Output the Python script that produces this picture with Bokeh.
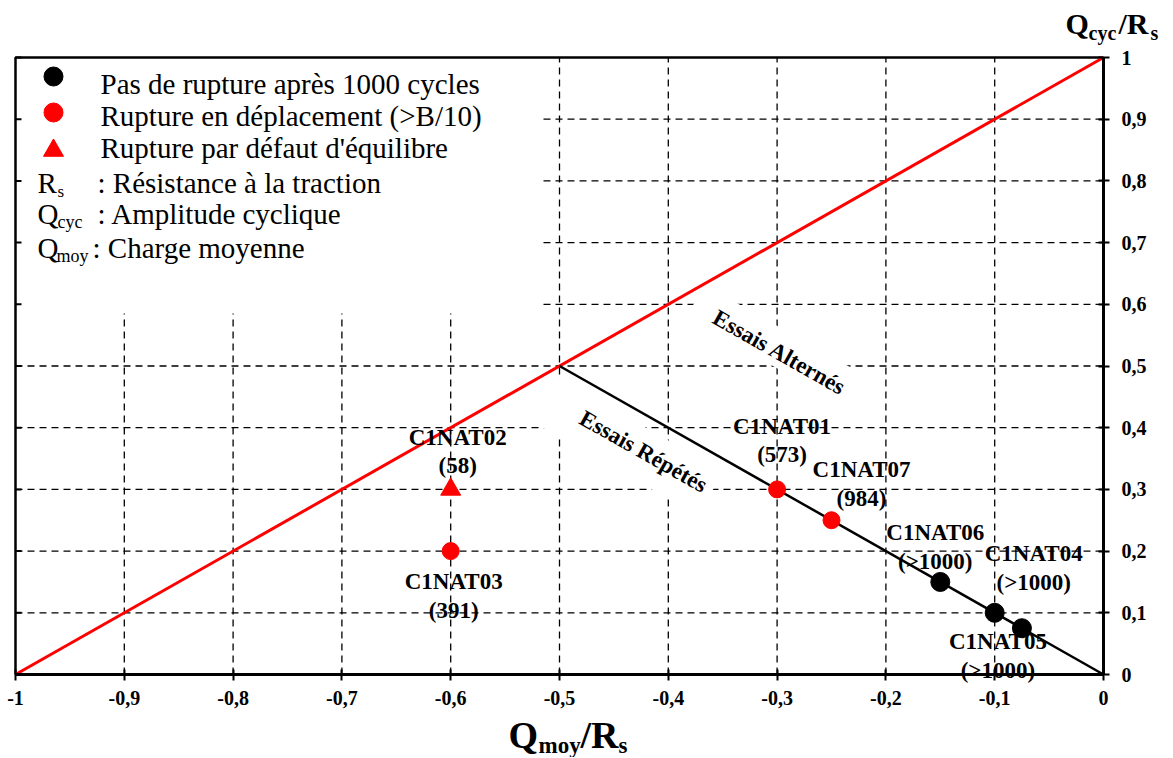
import math
from bokeh.plotting import figure
from bokeh.models import (ColumnDataSource, FixedTicker, Label,
                          CustomJSTickFormatter, Range1d)
from bokeh.core.properties import value
from bokeh.embed import file_html
from bokeh.resources import INLINE

# ---------------- data ----------------
x_ticks = [-1.0, -0.9, -0.8, -0.7, -0.6, -0.5, -0.4, -0.3, -0.2, -0.1, 0.0]
y_ticks = [0.0, 0.1, 0.2, 0.3, 0.4, 0.5, 0.6, 0.7, 0.8, 0.9, 1.0]

limit_x = [-1.0, 0.0]      # Qcyc/Rs = 1 + Qmoy/Rs (red)
limit_y = [0.0, 1.0]
repeat_x = [-0.5, 0.0]     # Qcyc/Rs = -Qmoy/Rs (black)
repeat_y = [0.5, 0.0]

test_names = ["C1NAT01", "C1NAT07", "C1NAT06", "C1NAT04", "C1NAT05", "C1NAT02", "C1NAT03"]
test_cycles = ["(573)", "(984)", "(>1000)", "(>1000)", "(>1000)", "(58)", "(391)"]
test_qmoy = [-0.3, -0.25, -0.15, -0.1, -0.075, -0.6, -0.6]
test_qcyc = [0.3, 0.25, 0.15, 0.1, 0.075, 0.3, 0.2]
test_kind = ["depl", "depl", "none", "none", "none", "equil", "depl"]

legend_texts = ["Pas de rupture après 1000 cycles",
                "Rupture en déplacement (>B/10)",
                "Rupture par défaut d'équilibre"]

# ---------------- layout (page pixels -> data) ----------------
W, H = 1172, 757
PX_L, PX_R, PY_T, PY_B = 15.0, 1103.0, 57.0, 674.0
SX = PX_R - PX_L          # px per unit along x
SY = PY_B - PY_T          # px per unit along y
def dxp(px):
    return -1.0 + (px - PX_L) / SX
def dyp(py):
    return (PY_B - py) / SY

FONT = "Liberation Serif"
RED = "#FF0000"
ang = -math.atan((0.5 * SY) / (0.5 * SX))

p = figure(width=W, height=H,
           x_range=Range1d(dxp(0), dxp(W)), y_range=Range1d(dyp(H), dyp(0)),
           x_axis_location="below", y_axis_location="right",
           output_backend="svg", toolbar_location=None, min_border=0)
p.background_fill_color = "white"
p.border_fill_color = "white"
p.outline_line_color = None
p.grid.visible = False

fmt = CustomJSTickFormatter(code="""
const v = Math.round(tick*10)/10;
return (v === 0 ? "0" : v.toString()).replace('.', ',');
""")

for ax, ticks, bnds in ((p.xaxis[0], x_ticks, (-1, 0)), (p.yaxis[0], y_ticks, (0, 1))):
    ax.ticker = FixedTicker(ticks=ticks)
    ax.formatter = fmt
    ax.fixed_location = 0
    ax.bounds = bnds
    ax.major_label_text_font = FONT
    ax.major_label_text_font_style = "bold"
    ax.major_label_text_font_size = "20px"
    ax.major_label_text_color = "black"
    ax.axis_line_width = 3
    ax.axis_line_color = "black"
    ax.major_tick_line_width = 2
    ax.major_tick_line_color = "black"
    ax.major_tick_in = 5
    ax.major_tick_out = 6
    ax.minor_tick_line_color = None
p.xaxis[0].major_label_standoff = 10
p.yaxis[0].major_label_standoff = 12

# ---------------- dashed grid ----------------
gx = x_ticks[1:-1]
gy = y_ticks[1:-1]
p.segment(x0=gx, x1=gx, y0=[0] * len(gx), y1=[1] * len(gx),
          line_color="black", line_dash="7 5", line_width=1.3)
p.segment(x0=[-1] * len(gy), x1=[0] * len(gy), y0=gy, y1=gy,
          line_color="black", line_dash="7 5", line_width=1.3)

# ---------------- white masks (legend box, rotated text boxes) ----------------
p.quad(left=[dxp(PX_L)], right=[dxp(541)], bottom=[dyp(313)], top=[dyp(PY_T)],
       fill_color="white", line_color=None)

alt_box = (dxp(768.5), dyp(342))
rep_box = (dxp(628), dyp(446.5))
p.rect(x=[alt_box[0], rep_box[0]], y=[alt_box[1], rep_box[1]], width=[169, 189], height=[37, 51],
       angle=ang, width_units="screen", height_units="screen",
       fill_color="white", line_color=None)

# ---------------- plot box: top and left edges, inner left ticks ----------------
p.line([-1, -1, 0], [0, 1, 1], line_color="black", line_width=2.5)
p.segment(x0=[-1] * len(y_ticks), x1=[dxp(PX_L + 6)] * len(y_ticks), y0=y_ticks, y1=y_ticks,
          line_color="black", line_width=2)

# ---------------- lines ----------------
p.line(limit_x, limit_y, line_color=RED, line_width=3)
p.line(repeat_x, repeat_y, line_color="black", line_width=2.5)

# ---------------- points ----------------
kind_marker = {"depl": "circle", "none": "circle", "equil": "triangle"}
kind_color = {"depl": RED, "none": "black", "equil": RED}
kind_size = {"depl": 17, "none": 19, "equil": 20}
src = ColumnDataSource(dict(
    x=test_qmoy, y=test_qcyc,
    marker=[kind_marker[k] for k in test_kind],
    color=[kind_color[k] for k in test_kind],
    size=[kind_size[k] for k in test_kind],
    label=[n + "\n" + c for n, c in zip(test_names, test_cycles)],
    dx=[5, 30, -5, 39, -24, 7, 3],
    dy=[-49, -36, -35, -45, 28, -38, 45],
))
p.scatter(x="x", y="y", marker="marker", size="size", fill_color="color",
          line_color="color", source=src)
p.text(x="x", y="y", text="label", x_offset="dx", y_offset="dy", source=src,
       text_align="center", text_baseline="middle", text_font=value(FONT),
       text_font_style="bold", text_font_size="23px", text_color="black",
       text_line_height=1.15)

# ---------------- region annotations ----------------
for txt, (cx, cy) in (("Essais Alternés", (779, 352)), ("Essais Répétés", (643, 451))):
    p.add_layout(Label(x=dxp(cx), y=dyp(cy), text=txt, angle=ang, text_align="center",
                       text_baseline="middle", text_font=FONT, text_font_style="bold",
                       text_font_size="23px", text_color="black"))

# ---------------- custom legend ----------------
leg_marker = ["circle", "circle", "triangle"]
leg_color = ["black", RED, RED]
leg_py = [76, 112, 150]
leg_size = [19, 19, 20]
p.scatter(x=[dxp(53)] * 3, y=[dyp(v) for v in leg_py], marker=leg_marker,
          size=leg_size, fill_color=leg_color, line_color=leg_color)

def lab(text, px, baseline, size=29, style="normal"):
    mid = baseline - 0.34 * size
    p.add_layout(Label(x=dxp(px), y=dyp(mid), text=text, text_font=FONT,
                       text_font_style=style, text_font_size=f"{size}px", text_color="black",
                       text_align="left", text_baseline="middle"))

base = [93, 125, 157, 192, 223, 257]
for t, b in zip(legend_texts, base[:3]):
    lab(t, 100, b)
lab("R", 37, base[3]); lab("s", 57, base[3] + 5, size=17); lab(": Résistance à la traction", 97, base[3])
lab("Q", 37, base[4]); lab("cyc", 57, base[4] + 5, size=18); lab(": Amplitude cyclique", 97, base[4])
lab("Q", 37, base[5]); lab("moy", 56, base[5] + 5, size=18); lab(": Charge moyenne", 92, base[5])

# ---------------- axis titles ----------------
lab("Q", 508, 747, size=38, style="bold")
lab("moy", 538, 753, size=23, style="bold")
lab("/R", 580, 747, size=38, style="bold")
lab("s", 618, 753, size=23, style="bold")

lab("Q", 1065, 33, size=30, style="bold")
lab("cyc", 1088, 39, size=20, style="bold")
lab("/R", 1118, 33, size=30, style="bold")
lab("s", 1150, 39, size=20, style="bold")

open("out.html", "w").write(file_html(p, INLINE))
